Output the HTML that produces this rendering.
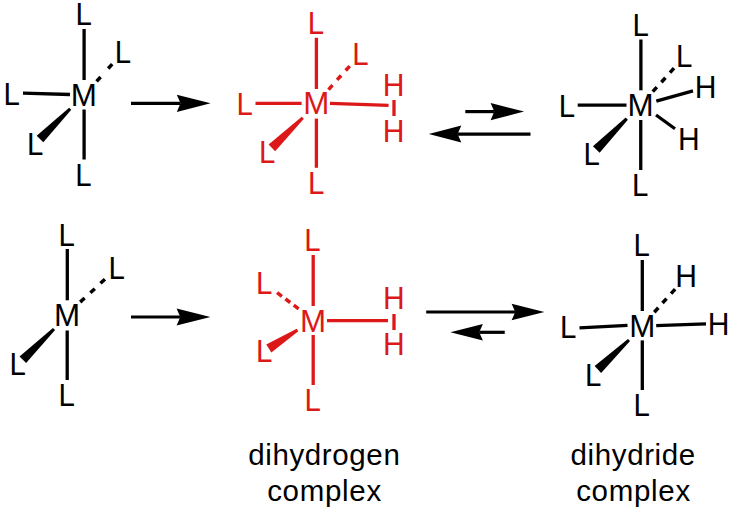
<!DOCTYPE html>
<html><head><meta charset="utf-8"><style>
html,body{margin:0;padding:0;background:#fff;}
svg{display:block;}
text{font-family:"Liberation Sans", sans-serif;}
</style></head><body>
<svg width="733" height="512" viewBox="0 0 733 512">
<rect width="733" height="512" fill="#fff"/>
<text transform="translate(75.48,24.70) scale(0.92,1)" fill="#000" font-size="32" >L</text>
<text transform="translate(114.78,63.00) scale(0.92,1)" fill="#000" font-size="32" >L</text>
<text transform="translate(3.58,104.50) scale(0.92,1)" fill="#000" font-size="32" >L</text>
<text transform="translate(70.63,105.60) scale(0.98,1)" fill="#000" font-size="32" >M</text>
<text transform="translate(27.09,154.50) scale(0.92,1)" fill="#000" font-size="32" >L</text>
<text transform="translate(75.28,185.60) scale(0.92,1)" fill="#000" font-size="32" >L</text>
<line x1="84.1" y1="29" x2="84.1" y2="80" stroke="#000" stroke-width="3.3"/>
<line x1="84.1" y1="109.5" x2="84.1" y2="159.5" stroke="#000" stroke-width="3.3"/>
<line x1="23" y1="93.2" x2="70" y2="94.5" stroke="#000" stroke-width="3.3"/>
<polygon points="69.14,107.74 36.68,135.68 43.32,142.32 71.26,109.86" fill="#000"/>
<polygon points="97.88,82.60 101.91,78.16 99.32,75.80 95.29,80.24" fill="#000"/>
<polygon points="109.48,69.70 113.51,65.26 110.92,62.90 106.89,67.34" fill="#000"/>
<line x1="131" y1="103.3" x2="180.5" y2="103.3" stroke="#000" stroke-width="3.2"/>
<polygon points="210.6,103.3 176.8,94.7 180.5,103.3 176.8,111.89999999999999" fill="#000"/>
<text transform="translate(307.69,34.00) scale(0.92,1)" fill="#dc1818" font-size="32" >L</text>
<text transform="translate(352.28,65.00) scale(0.92,1)" fill="#dc1818" font-size="32" >L</text>
<text transform="translate(236.59,114.50) scale(0.92,1)" fill="#dc1818" font-size="32" >L</text>
<text transform="translate(303.13,114.10) scale(0.98,1)" fill="#dc1818" font-size="32" >M</text>
<text transform="translate(382.83,95.50) scale(0.94,1)" fill="#dc1818" font-size="32" >H</text>
<text transform="translate(382.83,141.80) scale(0.94,1)" fill="#dc1818" font-size="32" >H</text>
<text transform="translate(259.08,163.20) scale(0.92,1)" fill="#dc1818" font-size="32" >L</text>
<text transform="translate(307.88,193.90) scale(0.92,1)" fill="#dc1818" font-size="32" >L</text>
<line x1="316.4" y1="37.8" x2="316.4" y2="89" stroke="#dc1818" stroke-width="3.3"/>
<line x1="316.4" y1="118.6" x2="316.4" y2="167.8" stroke="#dc1818" stroke-width="3.3"/>
<line x1="255.5" y1="103.3" x2="301.6" y2="103.3" stroke="#dc1818" stroke-width="3.3"/>
<line x1="330" y1="103.4" x2="388.6" y2="105.3" stroke="#dc1818" stroke-width="3.3"/>
<line x1="394" y1="100" x2="394" y2="116" stroke="#dc1818" stroke-width="3.3"/>
<polygon points="301.75,116.67 268.62,144.43 275.18,151.17 303.85,118.83" fill="#dc1818"/>
<polygon points="329.78,90.80 333.81,86.36 331.22,84.00 327.19,88.44" fill="#dc1818"/>
<polygon points="338.38,81.10 342.41,76.66 339.82,74.30 335.79,78.74" fill="#dc1818"/>
<polygon points="346.98,71.70 351.01,67.26 348.42,64.90 344.39,69.34" fill="#dc1818"/>
<line x1="465.3" y1="111.6" x2="494.3" y2="111.6" stroke="#000" stroke-width="3.2"/>
<polygon points="524.1,111.6 490.6,103.0 494.3,111.6 490.6,120.19999999999999" fill="#000"/>
<line x1="530.5" y1="134.1" x2="457.6" y2="134.1" stroke="#000" stroke-width="3.2"/>
<polygon points="428.8,134.1 461.3,125.6 457.6,134.1 461.3,142.6" fill="#000"/>
<text transform="translate(632.59,36.00) scale(0.92,1)" fill="#000" font-size="32" >L</text>
<text transform="translate(675.88,66.50) scale(0.92,1)" fill="#000" font-size="32" >L</text>
<text transform="translate(694.73,98.20) scale(0.94,1)" fill="#000" font-size="32" >H</text>
<text transform="translate(558.79,116.80) scale(0.92,1)" fill="#000" font-size="32" >L</text>
<text transform="translate(627.43,116.00) scale(0.98,1)" fill="#000" font-size="32" >M</text>
<text transform="translate(678.03,149.80) scale(0.94,1)" fill="#000" font-size="32" >H</text>
<text transform="translate(583.38,165.00) scale(0.92,1)" fill="#000" font-size="32" >L</text>
<text transform="translate(632.09,195.80) scale(0.92,1)" fill="#000" font-size="32" >L</text>
<line x1="640.9" y1="39.5" x2="640.9" y2="90.3" stroke="#000" stroke-width="3.3"/>
<line x1="640.75" y1="120" x2="640.75" y2="170" stroke="#000" stroke-width="3.3"/>
<line x1="577.7" y1="105.2" x2="626.5" y2="105.2" stroke="#000" stroke-width="3.3"/>
<line x1="656.3" y1="101.1" x2="693" y2="90.8" stroke="#000" stroke-width="3.3"/>
<line x1="656" y1="115" x2="675" y2="128.75" stroke="#000" stroke-width="3.3"/>
<polygon points="625.73,117.55 592.96,146.20 599.64,152.80 627.87,119.65" fill="#000"/>
<polygon points="654.08,92.80 658.11,88.36 655.52,86.00 651.49,90.44" fill="#000"/>
<polygon points="662.68,83.40 666.71,78.96 664.12,76.60 660.09,81.04" fill="#000"/>
<polygon points="671.28,73.80 675.31,69.36 672.72,67.00 668.69,71.44" fill="#000"/>
<text transform="translate(58.59,245.80) scale(0.92,1)" fill="#000" font-size="32" >L</text>
<text transform="translate(108.48,279.00) scale(0.92,1)" fill="#000" font-size="32" >L</text>
<text transform="translate(53.93,326.10) scale(0.98,1)" fill="#000" font-size="32" >M</text>
<text transform="translate(9.59,375.30) scale(0.92,1)" fill="#000" font-size="32" >L</text>
<text transform="translate(58.38,405.80) scale(0.92,1)" fill="#000" font-size="32" >L</text>
<line x1="67.3" y1="249" x2="67.3" y2="300.3" stroke="#000" stroke-width="3.3"/>
<line x1="67.2" y1="330.5" x2="67.2" y2="380" stroke="#000" stroke-width="3.3"/>
<polygon points="52.95,327.93 19.55,356.41 26.15,363.09 55.05,330.07" fill="#000"/>
<polygon points="81.38,303.42 85.79,299.36 83.42,296.78 79.01,300.84" fill="#000"/>
<polygon points="91.58,294.02 95.99,289.96 93.62,287.38 89.21,291.44" fill="#000"/>
<polygon points="101.68,284.62 106.09,280.56 103.72,277.98 99.31,282.04" fill="#000"/>
<line x1="131" y1="317" x2="180.3" y2="317" stroke="#000" stroke-width="3.2"/>
<polygon points="210.4,317 176.60000000000002,308.4 180.3,317 176.60000000000002,325.6" fill="#000"/>
<text transform="translate(304.19,250.80) scale(0.92,1)" fill="#dc1818" font-size="32" >L</text>
<text transform="translate(255.98,294.00) scale(0.92,1)" fill="#dc1818" font-size="32" >L</text>
<text transform="translate(300.03,331.70) scale(0.98,1)" fill="#dc1818" font-size="32" >M</text>
<text transform="translate(255.98,361.80) scale(0.92,1)" fill="#dc1818" font-size="32" >L</text>
<text transform="translate(304.38,410.80) scale(0.92,1)" fill="#dc1818" font-size="32" >L</text>
<text transform="translate(383.03,309.00) scale(0.94,1)" fill="#dc1818" font-size="32" >H</text>
<text transform="translate(383.03,355.00) scale(0.94,1)" fill="#dc1818" font-size="32" >H</text>
<line x1="313.2" y1="255" x2="313.2" y2="306" stroke="#dc1818" stroke-width="3.3"/>
<line x1="313.2" y1="335" x2="313.2" y2="385" stroke="#dc1818" stroke-width="3.3"/>
<line x1="327" y1="320.6" x2="388" y2="320.6" stroke="#dc1818" stroke-width="3.3"/>
<line x1="394" y1="314" x2="394" y2="330" stroke="#dc1818" stroke-width="3.3"/>
<polygon points="296.69,328.74 266.25,344.55 271.35,352.45 298.31,331.26" fill="#dc1818"/>
<polygon points="276.05,294.10 280.85,297.70 282.95,294.90 278.15,291.30" fill="#dc1818"/>
<polygon points="284.35,300.30 289.15,303.90 291.25,301.10 286.45,297.50" fill="#dc1818"/>
<polygon points="292.75,306.60 297.55,310.20 299.65,307.40 294.85,303.80" fill="#dc1818"/>
<line x1="426.2" y1="312" x2="515.3" y2="312" stroke="#000" stroke-width="3.2"/>
<polygon points="544.4,312 511.59999999999997,303.7 515.3,312 511.59999999999997,320.3" fill="#000"/>
<line x1="504.75" y1="332.3" x2="479.2" y2="332.3" stroke="#000" stroke-width="3.2"/>
<polygon points="450.4,332.3 482.9,324.0 479.2,332.3 482.9,340.6" fill="#000"/>
<text transform="translate(633.59,256.00) scale(0.92,1)" fill="#000" font-size="32" >L</text>
<text transform="translate(675.33,287.00) scale(0.94,1)" fill="#000" font-size="32" >H</text>
<text transform="translate(707.83,335.30) scale(0.94,1)" fill="#000" font-size="32" >H</text>
<text transform="translate(560.09,338.30) scale(0.92,1)" fill="#000" font-size="32" >L</text>
<text transform="translate(629.13,336.50) scale(0.98,1)" fill="#000" font-size="32" >M</text>
<text transform="translate(585.09,385.70) scale(0.92,1)" fill="#000" font-size="32" >L</text>
<text transform="translate(633.38,416.10) scale(0.92,1)" fill="#000" font-size="32" >L</text>
<line x1="642.3" y1="260" x2="642.3" y2="311" stroke="#000" stroke-width="3.3"/>
<line x1="642.3" y1="340.4" x2="642.3" y2="390" stroke="#000" stroke-width="3.3"/>
<line x1="579.5" y1="327.8" x2="627.5" y2="325.3" stroke="#000" stroke-width="3.3"/>
<line x1="656.2" y1="325.6" x2="706" y2="323.8" stroke="#000" stroke-width="3.3"/>
<polygon points="627.97,338.91 594.67,366.09 601.13,372.91 630.03,341.09" fill="#000"/>
<polygon points="655.58,313.40 659.61,308.96 657.02,306.60 652.99,311.04" fill="#000"/>
<polygon points="663.78,304.20 667.81,299.76 665.22,297.40 661.19,301.84" fill="#000"/>
<polygon points="672.38,294.80 676.41,290.36 673.82,288.00 669.79,292.44" fill="#000"/>
<text x="248.16" y="465.2" fill="#000" font-size="29.5" letter-spacing="0.63">dihydrogen</text>
<text x="267.16" y="500.9" fill="#000" font-size="29.5" letter-spacing="0.7">complex</text>
<text x="570.56" y="465.1" fill="#000" font-size="29.5" letter-spacing="0.62">dihydride</text>
<text x="576.16" y="500.5" fill="#000" font-size="29.5" letter-spacing="0.7">complex</text>
</svg></body></html>
